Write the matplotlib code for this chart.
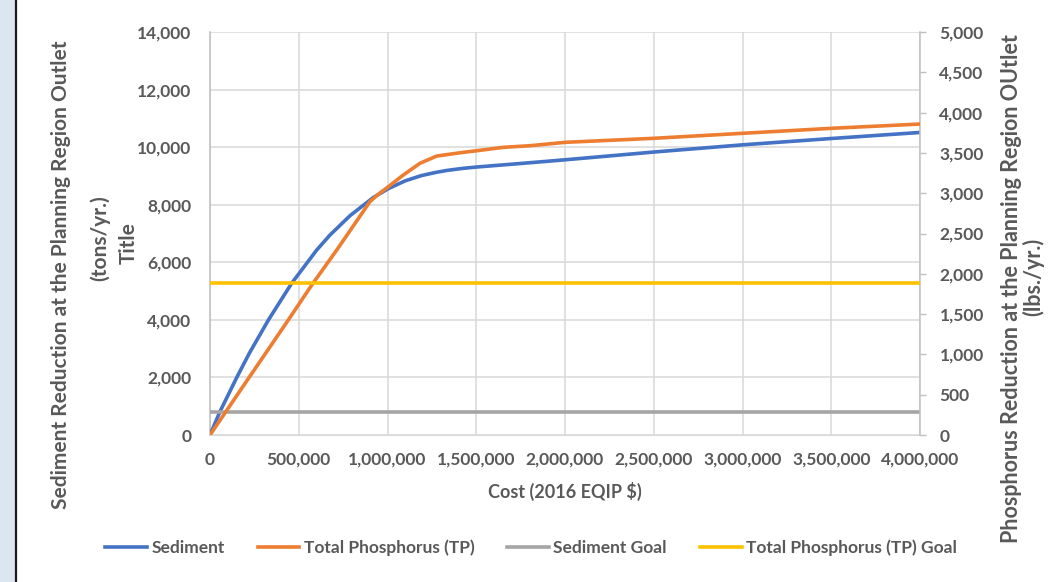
import matplotlib
matplotlib.use("Agg")
import matplotlib.pyplot as plt
from matplotlib.ticker import FuncFormatter, MultipleLocator
from matplotlib.lines import Line2D
from matplotlib.patches import Rectangle

# --- data -------------------------------------------------------------
# Sediment reduction (tons/yr.) against cost (2016 EQIP $)
sed_cost = [0, 56e3, 150e3, 221e3, 329e3, 460e3, 601e3, 676e3, 789e3, 920e3,
            1005e3, 1100e3, 1190e3, 1270e3, 1334e3, 1420e3, 1503e3, 1746e3,
            2000e3, 2500e3, 3000e3, 3500e3, 4000e3]
sediment = [0, 810, 1990, 2835, 3995, 5270, 6425, 6947, 7620, 8250,
            8560, 8830, 9010, 9120, 9190, 9260, 9310, 9430,
            9560, 9830, 10080, 10300, 10510]

# Total phosphorus reduction (lbs./yr.) against cost
tp_cost = [0, 216e3, 436e3, 573e3, 714e3, 789e3, 901e3, 950e3, 1005e3,
           1089e3, 1183e3, 1277e3, 1427e3, 1503e3, 1652e3, 1803e3, 2000e3,
           2500e3, 3000e3, 3500e3, 4000e3]
tp = [0, 700, 1410, 1860, 2295, 2535, 2895, 2990, 3081,
      3226, 3371, 3461, 3507, 3527, 3569, 3589, 3631,
      3681, 3743, 3805, 3858]

# Goals
goal_cost = [0, 4000e3]
sediment_goal = 810      # tons/yr.
tp_goal = 1880           # lbs./yr.

series_names = ["Sediment", "Total Phosphorus (TP)", "Sediment Goal",
                "Total Phosphorus (TP) Goal"]

# --- style ------------------------------------------------------------
BLUE, ORANGE, GREY, GOLD = "#4472C4", "#ED7D31", "#A5A5A5", "#FFC000"
TXT = "#595959"
GRID = "#D9D9D9"
AXL = "#BFBFBF"
plt.rcParams["font.family"] = ["Lato", "DejaVu Sans"]
plt.rcParams["font.weight"] = "bold"

fig = plt.figure(figsize=(10.48, 5.82), dpi=100)

# side band with a dark edge line
fig.patches.append(Rectangle((0, 0), 15 / 1048, 1, transform=fig.transFigure,
                             facecolor="#DCE6F1", edgecolor="none", zorder=0))
fig.lines.append(Line2D([16 / 1048, 16 / 1048], [0, 1], transform=fig.transFigure,
                        color="#1a1a1a", lw=1.6))

ax = fig.add_axes([210 / 1048, 1 - 435 / 582, 710 / 1048, 403 / 582])
ax2 = ax.twinx()

lw = 2.6
ax.plot(sed_cost, sediment, color=BLUE, lw=lw, solid_joinstyle="round", zorder=3)
ax.plot(goal_cost, [sediment_goal] * 2, color=GREY, lw=lw, zorder=4)
ax2.plot(tp_cost, tp, color=ORANGE, lw=lw, solid_joinstyle="round", zorder=3)
ax2.plot(goal_cost, [tp_goal] * 2, color=GOLD, lw=lw, zorder=4)

ax.set_xlim(0, 4000e3)
ax.set_ylim(0, 14000)
ax2.set_ylim(0, 5000)
ax.xaxis.set_major_locator(MultipleLocator(500e3))
ax.yaxis.set_major_locator(MultipleLocator(2000))
ax2.yaxis.set_major_locator(MultipleLocator(500))
fmt = FuncFormatter(lambda v, p: f"{v:,.0f}")
ax.xaxis.set_major_formatter(fmt)
ax.yaxis.set_major_formatter(fmt)
ax2.yaxis.set_major_formatter(fmt)

ax.grid(True, color=GRID, lw=1.1)
ax.set_axisbelow(True)
for a in (ax, ax2):
    for s in a.spines.values():
        s.set_visible(False)
ax.spines["left"].set_visible(True)
ax.spines["left"].set_color(AXL)
ax.spines["left"].set_linewidth(1.1)
ax.spines["bottom"].set_visible(True)
ax.spines["bottom"].set_color(GRID)
ax2.spines["right"].set_visible(True)
ax2.spines["right"].set_color(AXL)
ax2.spines["right"].set_linewidth(1.1)

TICK_FS = 12.5
ax.tick_params(axis="both", length=0, labelsize=TICK_FS, labelcolor=TXT)
ax.tick_params(axis="y", pad=13.5)
ax.tick_params(axis="x", pad=12)
ax2.tick_params(axis="y", length=4, width=1, color=AXL, pad=10,
                labelsize=TICK_FS, labelcolor=TXT)

ax.set_xlabel("Cost (2016 EQIP $)", fontsize=13, color=TXT, fontweight="bold",
              labelpad=10)

# axis titles
TITLE_FS = 15
fig.text(61 / 1048, 1 - 275 / 582,
         "Sediment Reduction at the Planning Region Outlet",
         rotation=90, ha="center", va="center", fontsize=TITLE_FS, color=TXT,
         fontweight="bold")
fig.text(100 / 1048, 1 - 238 / 582, "(tons/yr.)", rotation=90, ha="center",
         va="center", fontsize=TITLE_FS, color=TXT, fontweight="bold")
fig.text(129 / 1048, 1 - 243 / 582, "Title", rotation=90, ha="center",
         va="center", fontsize=TITLE_FS, color=TXT, fontweight="bold")
fig.text(1012 / 1048, 1 - 289 / 582,
         "Phosphorus Reduction at the Planning Region OUtlet",
         rotation=90, ha="center", va="center", fontsize=15.5, color=TXT,
         fontweight="bold")
fig.text(1033 / 1048, 1 - 277 / 582, "(lbs./yr.)", rotation=90, ha="center",
         va="center", fontsize=15.5, color=TXT, fontweight="bold")

handles = [Line2D([], [], color=c, lw=lw) for c in (BLUE, ORANGE, GREY, GOLD)]
leg = fig.legend(handles, series_names, loc="center",
                 bbox_to_anchor=(531 / 1048, 1 - 548 / 582), ncol=4,
                 frameon=False, fontsize=12.5, handlelength=2.4,
                 handletextpad=0.25, columnspacing=1.9)
for t in leg.get_texts():
    t.set_color(TXT)
    t.set_fontweight("bold")

fig.savefig("out.png", dpi=100)
